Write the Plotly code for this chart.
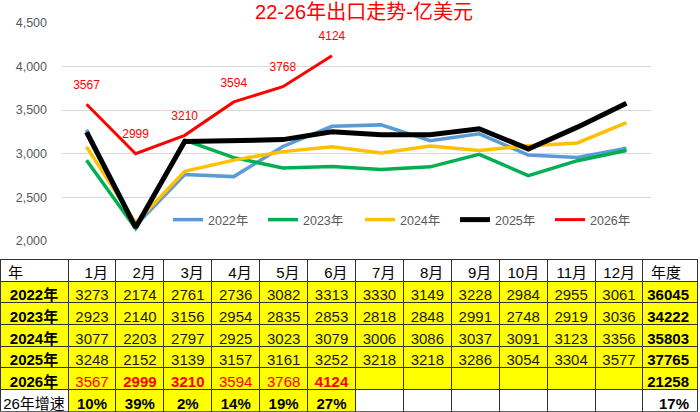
import plotly.graph_objects as go

months = ['1月', '2月', '3月', '4月', '5月', '6月', '7月', '8月', '9月', '10月', '11月', '12月']
years = ['2022年', '2023年', '2024年', '2025年', '2026年']
y2022 = [3273, 2174, 2761, 2736, 3082, 3313, 3330, 3149, 3228, 2984, 2955, 3061]
y2023 = [2923, 2140, 3156, 2954, 2835, 2853, 2818, 2848, 2991, 2748, 2919, 3036]
y2024 = [3077, 2203, 2797, 2925, 3023, 3079, 3006, 3086, 3037, 3091, 3123, 3356]
y2025 = [3248, 2152, 3139, 3157, 3161, 3252, 3218, 3218, 3286, 3054, 3304, 3577]
y2026 = [3567, 2999, 3210, 3594, 3768, 4124]
annual = [36045, 34222, 35803, 37765, 21258]
growth = ['10%', '39%', '2%', '14%', '19%', '27%']
growth_total = '17%'
bold2026 = [False, True, True, False, False, True]

title = '22-26年出口走势-亿美元'
yticks = [2000, 2500, 3000, 3500, 4000, 4500]

series = [y2022, y2023, y2024, y2025, y2026]
colors = ['#5B9BD5', '#00B050', '#FFC000', '#000000', '#FF0000']
widths = [3.5, 3.5, 3.5, 5, 3]
legend_x_px = [168, 263, 360, 455, 550]

FONT = 'Liberation Sans, Arial, Noto Sans CJK SC, sans-serif'
W, H = 700, 412
YEL, WHT = '#FFFF00', '#FFFFFF'
LINE = dict(color='#333333', width=1)
COLW = [68] + [47.9] * 12 + [54]
TX = [0, 697 / W]
TOP, HH, RH = 259, 22, 21.7

fig = go.Figure()
for i, (name, ys) in enumerate(zip(years, series)):
    lg = 'legend' if i == 0 else 'legend%d' % (i + 1)
    if i == 4:
        fig.add_trace(go.Scatter(
            x=months[:len(ys)], y=ys, name=name, mode='lines+markers+text',
            line=dict(color=colors[i], width=widths[i]),
            marker=dict(size=18, color='rgba(0,0,0,0)'),
            text=[str(v) for v in ys], textposition='top center',
            textfont=dict(color='#FF0000', size=12, family=FONT),
            legend=lg, xaxis='x', yaxis='y'))
    else:
        fig.add_trace(go.Scatter(
            x=months[:len(ys)], y=ys, name=name, mode='lines',
            line=dict(color=colors[i], width=widths[i]),
            legend=lg, xaxis='x', yaxis='y'))

# ---- table part 1: header + 2022-2025 rows
rows = [y2022, y2023, y2024, y2025]
cols1 = [years[:4]] + [[str(r[m]) for r in rows] for m in range(12)] + [[str(a) for a in annual[:4]]]
t1_bottom_px = TOP + HH + 4 * RH
fig.add_trace(go.Table(
    domain=dict(x=TX, y=[1 - (t1_bottom_px + 2) / H, 1 - TOP / H]),
    columnwidth=COLW,
    header=dict(values=['年'] + months + ['年度'], height=HH,
                fill=dict(color=WHT), line=LINE,
                align=['left'] + ['right'] * 12 + ['left'],
                font=dict(family=FONT, size=15, color='#000000')),
    cells=dict(values=cols1, height=RH,
               fill=dict(color=YEL), line=LINE,
               align=['center'] * 13 + ['right'],
               font=dict(family=FONT, size=15,
                         color=['#000000'] + ['#1a1a1a'] * 12 + ['#000000'],
                         weight=['bold'] + ['normal'] * 12 + ['bold'])),
))

# ---- table part 2: 2026 row (as header) + growth row
r26 = [years[4]] + [str(y2026[m]) if m < len(y2026) else '' for m in range(12)] + [str(annual[4])]
w26 = ['bold'] + [('bold' if bold2026[m] else 'normal') if m < len(y2026) else 'normal' for m in range(12)] + ['bold']
c26 = ['#000000'] + ['#FF0000'] * 12 + ['#000000']
rg = ['26年增速'] + [growth[m] if m < len(growth) else '' for m in range(12)] + [growth_total]
fg = [WHT] + [YEL if m < len(growth) else WHT for m in range(12)] + [WHT]
fig.add_trace(go.Table(
    domain=dict(x=TX, y=[0, 1 - t1_bottom_px / H]),
    columnwidth=COLW,
    header=dict(values=r26, height=RH,
                fill=dict(color=YEL), line=LINE,
                align=['center'] * 13 + ['right'],
                font=dict(family=FONT, size=15, color=c26, weight=w26)),
    cells=dict(values=[[v] for v in rg], height=RH,
               fill=dict(color=[[f] for f in fg]), line=LINE,
               align=['center'] * 13 + ['right'],
               font=dict(family=FONT, size=15, color='#000000',
                         weight=['normal'] + ['bold'] * 13)),
))

legends = {}
for i in range(5):
    key = 'legend' if i == 0 else 'legend%d' % (i + 1)
    legends[key] = dict(orientation='h', x=legend_x_px[i] / W, xanchor='left',
                        y=1 - 220 / H, yanchor='middle',
                        bgcolor='rgba(0,0,0,0)', itemwidth=30,
                        font=dict(family=FONT, size=12.5, color='#595959'))

fig.update_layout(
    width=W, height=H,
    margin=dict(l=0, r=0, t=0, b=0, autoexpand=False),
    paper_bgcolor='#FFFFFF', plot_bgcolor='#FFFFFF',
    font=dict(family=FONT),
    title=dict(text=title, x=364 / W, xanchor='center', y=1 - 11.5 / H, yanchor='middle',
               font=dict(family=FONT, size=20, color='#FF0000')),
    xaxis=dict(domain=[62 / W, 651 / W], type='category', categoryarray=months,
               range=[-0.5, 11.5], showticklabels=False, showgrid=False,
               zeroline=False, showline=False, ticks='', automargin=False),
    yaxis=dict(domain=[1 - 240.7 / H, 1 - 23 / H], range=[2000, 4500],
               tickvals=yticks, ticktext=['{:,}'.format(v) for v in yticks],
               showgrid=True, gridcolor='#D9D9D9', gridwidth=1,
               zeroline=False, showline=False, ticks='', automargin=False,
               ticklabelstandoff=14,
               tickfont=dict(family=FONT, size=12.5, color='#595959')),
    showlegend=True,
    **legends,
)

fig.write_html('out.html')
